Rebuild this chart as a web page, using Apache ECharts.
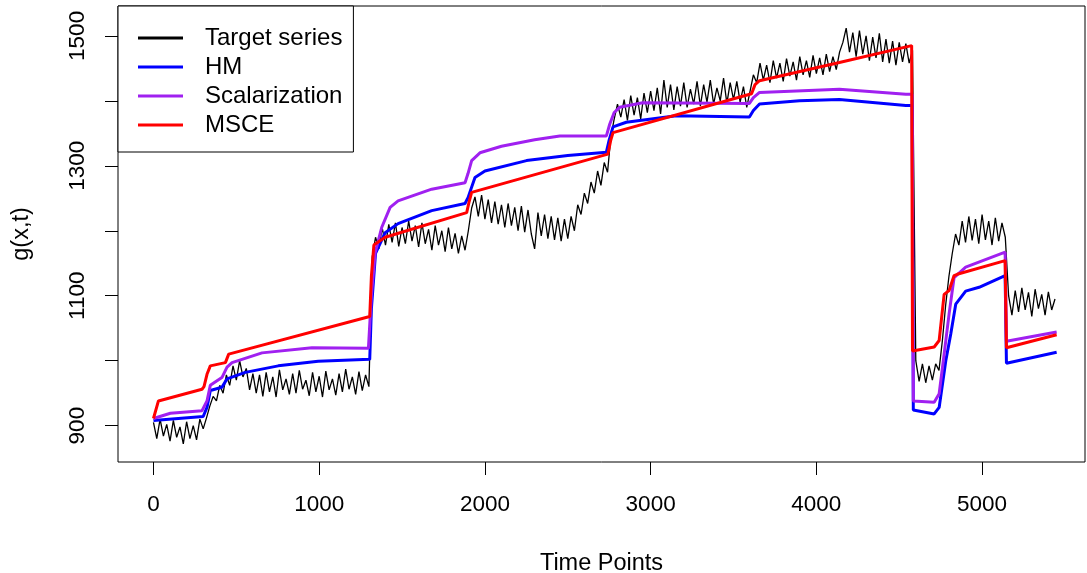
<!DOCTYPE html>
<html>
<head>
<meta charset="utf-8">
<script src="https://cdn.jsdelivr.net/npm/echarts@6/dist/echarts.min.js"></script>
<style>
  html, body { margin: 0; padding: 0; background: #fff; }
  #chart { width: 1087px; height: 573px; }
</style>
</head>
<body>
<div id="chart"></div>
<script>
// target series, one reading every 20 time points starting at t = 0
const targetStep = 20;
const targetValues = [
  905, 880, 910, 884, 902, 876, 908, 882, 898, 872, 906, 880, 900, 878, 910, 895,
  912, 930, 945, 938, 962, 950, 978, 962, 992, 970, 1000, 975, 988, 955, 980,
  950, 978, 945, 982, 952, 975, 944, 986, 955, 972, 948, 980, 950, 985, 956, 970,
  946, 982, 952, 976, 944, 984, 955, 972, 947, 980, 952, 987, 956, 975, 948, 983,
  954, 978, 960,
  1160, 1190, 1172, 1205, 1178, 1210, 1182, 1212, 1176, 1205, 1180, 1215, 1184, 1208,
  1175, 1212, 1180, 1202, 1170, 1208, 1178, 1200, 1168, 1205, 1172, 1196, 1165, 1192,
  1170, 1200,
  1235, 1252, 1222, 1255, 1218, 1248, 1212, 1245, 1210, 1240, 1205, 1242, 1208, 1236,
  1200, 1238, 1198, 1232, 1195, 1172, 1228, 1192, 1225, 1188, 1222, 1186, 1220, 1184,
  1218, 1188, 1222,
  1200, 1240, 1225, 1258, 1242, 1275, 1258, 1292, 1270, 1305, 1290,
  1345, 1372, 1395, 1375, 1402, 1370, 1408, 1378, 1405, 1372, 1412, 1382, 1415, 1385,
  1420, 1380, 1432, 1390, 1425, 1386, 1422, 1392, 1428, 1390, 1418, 1395, 1430, 1392,
  1425, 1398, 1432, 1395, 1420, 1400, 1435, 1396, 1428, 1402, 1430, 1398, 1422, 1390,
  1415,
  1440, 1428, 1458, 1432, 1455, 1428, 1462, 1435, 1458, 1430, 1465, 1438, 1460, 1432,
  1468, 1440, 1462, 1436, 1470, 1442, 1466, 1440, 1472, 1445, 1468, 1448, 1475,
  1490, 1512, 1475, 1505, 1468, 1508, 1472, 1500, 1462, 1498, 1466, 1504, 1460, 1495,
  1458, 1492, 1455, 1490, 1460, 1488, 1458, 1478,
  1000, 968, 995, 966, 992, 970, 995, 985,
  1030, 1085, 1130, 1165, 1195,
  1178, 1215, 1182, 1222, 1185, 1218, 1180, 1225, 1186, 1215, 1178, 1220, 1184, 1212, 1190,
  1100, 1070, 1108, 1075, 1112, 1078, 1105, 1068, 1110, 1080, 1102, 1070, 1106, 1078, 1095
];

const hmTime = [0, 300, 323, 343, 413, 444, 554, 753, 994, 1305, 1315, 1340, 1398, 1476,
  1679, 1880, 1898, 1940, 2000, 2251, 2500, 2733, 2750, 2773, 2853, 3155, 3596, 3620,
  3657, 3898, 4139, 4540, 4578, 4585, 4711, 4741, 4781, 4811, 4841, 4901, 4982, 5139,
  5147, 5450];
const hmValues = [908, 914, 928, 954, 959, 972, 982, 992, 999, 1002, 1080, 1165, 1197, 1211,
  1231, 1242, 1251, 1282, 1292, 1308, 1316, 1321, 1340, 1360, 1367, 1377, 1375, 1385,
  1395, 1400, 1402, 1393, 1393, 924, 918, 928, 1000, 1041, 1087, 1107, 1113, 1131,
  996, 1013];

const scalTime = [0, 102, 293, 323, 343, 413, 444, 474, 655, 956, 1297, 1315, 1337, 1377,
  1428, 1476, 1679, 1880, 1898, 1920, 1970, 2100, 2300, 2452, 2733, 2753, 2780, 2813,
  2952, 3596, 3620, 3657, 4139, 4540, 4578, 4585, 4711, 4741, 4771, 4801, 4831, 4901,
  5139, 5147, 5450];
const scalValues = [911, 919, 923, 938, 962, 974, 990, 997, 1012, 1020, 1019, 1100, 1165, 1205,
  1236, 1246, 1264, 1274, 1288, 1308, 1320, 1330, 1340, 1346, 1346, 1364, 1382, 1390,
  1397, 1396, 1405, 1413, 1418, 1410, 1410, 938, 936, 949, 1010, 1072, 1128, 1144,
  1167, 1030, 1044];

const msceTime = [0, 30, 293, 305, 323, 343, 434, 454, 1305, 1315, 1330, 1398, 1890, 1905,
  1920, 2742, 2760, 2773, 3609, 3630, 3657, 4139, 4575, 4580, 4711, 4741, 4771, 4801,
  4831, 4850, 5139, 5147, 5450];
const msceValues = [911, 938, 956, 960, 979, 992, 997, 1010, 1068, 1130, 1178, 1190, 1228, 1245,
  1259, 1318, 1340, 1351, 1411, 1425, 1431, 1459, 1485, 1015, 1021, 1031, 1102, 1108,
  1131, 1133, 1154, 1020, 1040];

const xTicks = [0, 1000, 2000, 3000, 4000, 5000];
const yTicks = [900, 1000, 1100, 1200, 1300, 1400, 1500];
const yLabels = [900, 1100, 1300, 1500];

const pairs = (times, values) => times.map((t, i) => [t, values[i]]);
const targetData = targetValues.map((v, i) => [i * targetStep, v]);

const font = "'Liberation Sans', Arial, Helvetica, sans-serif";
const chart = echarts.init(document.getElementById("chart"), null, { renderer: "canvas" });

const lineSeries = (name, data, color, width) => ({
  name: name,
  type: "line",
  data: data,
  symbol: "none",
  showSymbol: false,
  smooth: false,
  lineStyle: { color: color, width: width },
  itemStyle: { color: color },
});

chart.setOption({
  animation: false,
  backgroundColor: "#fff",
  textStyle: { fontFamily: font, color: "#000" },
  grid: {
    left: 118,
    top: 6,
    right: 2,
    bottom: 111,
    outerBoundsMode: "none",
    containLabel: false,
    show: true,
    borderColor: "#000",
    borderWidth: 1,
    backgroundColor: "transparent",
  },
  legend: {
    left: 118,
    top: 6,
    orient: "vertical",
    padding: [20, 11, 15, 20],
    icon: "rect",
    itemWidth: 45,
    itemHeight: 3,
    itemGap: 5,
    borderColor: "#000",
    borderWidth: 1,
    backgroundColor: "#fff",
    textStyle: { fontFamily: font, fontSize: 24, color: "#000", padding: [0, 0, 0, 17] },
    data: ["Target series", "HM", "Scalarization", "MSCE"],
  },
  xAxis: {
    type: "value",
    min: -214,
    max: 5621,
    name: "Time Points",
    nameLocation: "middle",
    nameGap: 90,
    nameTextStyle: { fontFamily: font, fontSize: 23.5, color: "#000" },
    axisLine: { show: false, onZero: false },
    splitLine: { show: false },
    axisTick: {
      show: true,
      inside: false,
      length: 13,
      customValues: xTicks,
      lineStyle: { color: "#000", width: 1 },
    },
    axisLabel: {
      customValues: xTicks,
      formatter: (v) => String(v),
      margin: 31,
      fontFamily: font,
      fontSize: 22.5,
      color: "#000",
    },
  },
  yAxis: {
    type: "value",
    min: 844,
    max: 1546,
    name: "g(x,t)",
    nameLocation: "middle",
    nameGap: 84,
    nameRotate: 90,
    nameTextStyle: { fontFamily: font, fontSize: 23.5, color: "#000" },
    axisLine: { show: false, onZero: false },
    splitLine: { show: false },
    axisTick: {
      show: true,
      inside: false,
      length: 13,
      customValues: yTicks,
      lineStyle: { color: "#000", width: 1 },
    },
    axisLabel: {
      customValues: yLabels,
      formatter: (v) => String(v),
      rotate: 90,
      margin: 29,
      fontFamily: font,
      fontSize: 22.5,
      color: "#000",
    },
  },
  series: [
    lineSeries("Target series", targetData, "#000000", 1.3),
    lineSeries("HM", pairs(hmTime, hmValues), "#0000FF", 3),
    lineSeries("Scalarization", pairs(scalTime, scalValues), "#A020F0", 3),
    lineSeries("MSCE", pairs(msceTime, msceValues), "#FF0000", 3),
  ],
});
</script>
</body>
</html>
